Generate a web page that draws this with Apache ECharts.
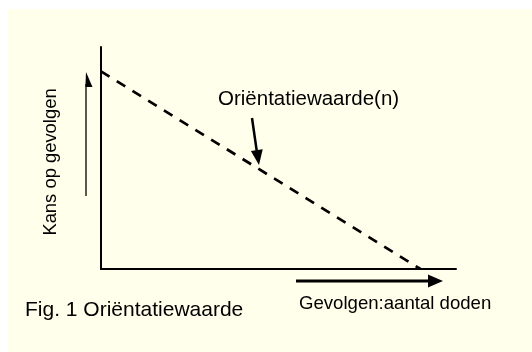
<!DOCTYPE html>
<html>
<head>
<meta charset="utf-8">
<script src="https://cdn.jsdelivr.net/npm/echarts@6/dist/echarts.min.js"></script>
<style>
html,body{margin:0;padding:0;background:#fff;}
#c{width:532px;height:352px;}
</style>
</head>
<body>
<div id="c"></div>
<script>
// Data: Oriëntatiewaarde line (relative scale 0..100)
const dashX = [0, 90];
const dashY = [89, 0];
const xName = 'Gevolgen:aantal doden';
const yName = 'Kans op gevolgen';
const annotation = 'Oriëntatiewaarde(n)';
const caption = 'Fig. 1 Oriëntatiewaarde';

const FONT = '"Liberation Sans", Arial, Helvetica, sans-serif';
const chart = echarts.init(document.getElementById('c'), null, {renderer: 'canvas'});
const lineData = dashX.map((x, i) => [x, dashY[i]]);

chart.setOption({
  backgroundColor: '#ffffff',
  animation: false,
  grid: {left: 101, right: 76, top: 47, bottom: 83},
  xAxis: {
    type: 'value', min: 0, max: 100,
    axisLine: {show: true, lineStyle: {color: '#000', width: 2}},
    axisTick: {show: false}, axisLabel: {show: false}, splitLine: {show: false}
  },
  yAxis: {
    type: 'value', min: 0, max: 100,
    axisLine: {show: true, lineStyle: {color: '#000', width: 2}},
    axisTick: {show: false}, axisLabel: {show: false}, splitLine: {show: false}
  },
  series: [{
    type: 'line',
    data: lineData,
    symbol: 'none',
    lineStyle: {color: '#000', width: 2.7, type: [10, 8.5]}
  }],
  graphic: [
    {type: 'rect', z: -100, shape: {x: 8, y: 9, width: 524, height: 343}, style: {fill: '#FFFFEB'}},
    // y arrow
    {type: 'line', shape: {x1: 86, y1: 196, x2: 86, y2: 84}, style: {stroke: '#000', lineWidth: 1.3}},
    {type: 'polygon', shape: {points: [[86, 72], [92.5, 87], [85.4, 87]]}, style: {fill: '#000'}},
    // x arrow
    {type: 'line', shape: {x1: 296, y1: 281, x2: 430, y2: 281}, style: {stroke: '#000', lineWidth: 3}},
    {type: 'polygon', shape: {points: [[428, 274.5], [443, 281], [428, 287.5]]}, style: {fill: '#000'}},
    // annotation arrow
    {type: 'line', shape: {x1: 252, y1: 118, x2: 256.9, y2: 152}, style: {stroke: '#000', lineWidth: 2.5}},
    {type: 'polygon', shape: {points: [[262.7, 149.3], [259, 165], [250.9, 151.1]]}, style: {fill: '#000'}},
    // texts
    {type: 'text', x: 218, y: 99, style: {text: annotation, font: '20.5px ' + FONT, fill: '#000', textAlign: 'left', textVerticalAlign: 'middle'}},
    {type: 'text', x: 25, y: 310, style: {text: caption, font: '21px ' + FONT, fill: '#000', textAlign: 'left', textVerticalAlign: 'middle'}},
    {type: 'text', x: 299, y: 304, style: {text: xName, font: '18.6px ' + FONT, fill: '#000', textAlign: 'left', textVerticalAlign: 'middle'}},
    {type: 'text', x: 50.5, y: 162, rotation: Math.PI / 2, style: {text: yName, font: '18.4px ' + FONT, fill: '#000', textAlign: 'center', textVerticalAlign: 'middle'}}
  ]
});
</script>
</body>
</html>
